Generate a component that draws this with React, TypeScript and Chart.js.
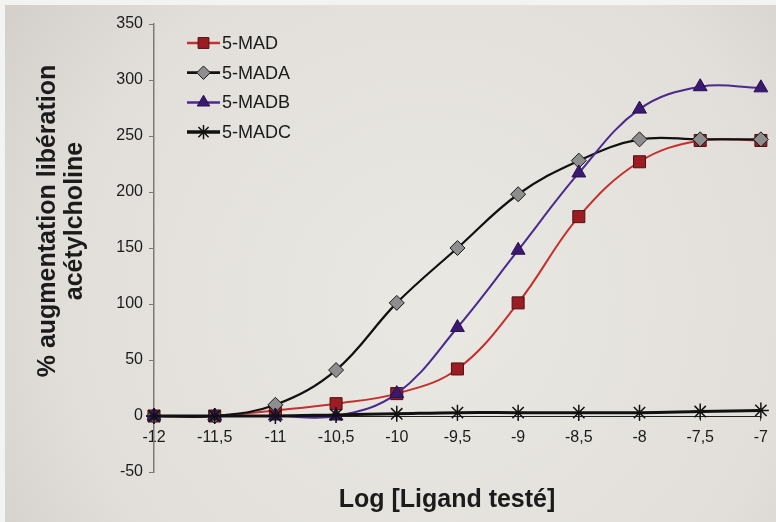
import React, { useEffect, useRef } from 'react';
import { Chart, registerables } from 'chart.js';

Chart.register(...registerables);

const xValues = [-12, -11.5, -11, -10.5, -10, -9.5, -9, -8.5, -8, -7.5, -7];
const madValues = [0, 0, 5, 11, 20, 42, 101, 178, 227, 246, 246];
const madaValues = [0, 0, 10, 41, 101, 150, 198, 228, 247, 247, 247];
const madbValues = [0, 0, 0, 0, 20, 79, 148, 217, 274, 294, 293];
const madcValues = [0, 0, 0, 1, 2, 3, 3, 3, 3, 4, 5];
const seriesNames = ['5-MAD', '5-MADA', '5-MADB', '5-MADC'];
const yTitle = ['% augmentation libération', 'acétylcholine'];
const xTitle = 'Log [Ligand testé]';
const yTicks = { min: -50, max: 350, step: 50 };
const xTicks = { min: -12, max: -7, step: 0.5 };

const FONT = "'Liberation Sans', Arial, sans-serif";
const TEXT = '#1b1b1b';

const styles = [
  { line: '#c4302e', fill: '#9c1c24', stroke: '#4e1014', point: 'rect', radius: 8.5, width: 2, order: 3 },
  { line: '#111111', fill: '#8e8e8e', stroke: '#1a1a1a', point: 'rectRot', radius: 7.5, width: 2.2, order: 2 },
  { line: '#4a2a8c', fill: '#3a1a70', stroke: '#2a1050', point: 'triangle', radius: 8, width: 2, order: 1 },
  { line: '#111111', fill: '#111111', stroke: '#111111', point: 'star', radius: 8, width: 3, order: 0 },
];

function pts(vals: number[]) {
  return xValues.map((x, i) => ({ x, y: vals[i] }));
}

function drawMarker(ctx: CanvasRenderingContext2D, kind: string, x: number, y: number, r: number, fill: string, stroke: string) {
  ctx.save();
  ctx.fillStyle = fill;
  ctx.strokeStyle = stroke;
  ctx.lineWidth = 1;
  ctx.beginPath();
  if (kind === 'rect') {
    const s = r * Math.SQRT1_2;
    ctx.rect(x - s, y - s, 2 * s, 2 * s);
    ctx.fill();
    ctx.stroke();
  } else if (kind === 'rectRot') {
    ctx.moveTo(x, y - r);
    ctx.lineTo(x + r, y);
    ctx.lineTo(x, y + r);
    ctx.lineTo(x - r, y);
    ctx.closePath();
    ctx.fill();
    ctx.stroke();
  } else if (kind === 'triangle') {
    ctx.moveTo(x, y - r);
    ctx.lineTo(x + r * 0.866, y + r * 0.5);
    ctx.lineTo(x - r * 0.866, y + r * 0.5);
    ctx.closePath();
    ctx.fill();
    ctx.stroke();
  } else {
    ctx.lineWidth = 1.5;
    for (let k = 0; k < 4; k++) {
      const a = (k * Math.PI) / 4;
      ctx.moveTo(x - Math.cos(a) * r, y - Math.sin(a) * r);
      ctx.lineTo(x + Math.cos(a) * r, y + Math.sin(a) * r);
    }
    ctx.stroke();
  }
  ctx.restore();
}

const backgroundPlugin = {
  id: 'photoBackground',
  beforeDraw(chart: any) {
    const { ctx, width, height } = chart;
    ctx.save();
    ctx.fillStyle = '#f3f3f2';
    ctx.fillRect(0, 0, width, height);
    const g = ctx.createRadialGradient(430, 300, 40, 430, 300, 580);
    g.addColorStop(0, '#e9e7e2');
    g.addColorStop(0.6, '#e2dfda');
    g.addColorStop(1, '#cdc8c4');
    ctx.fillStyle = g;
    ctx.fillRect(5, 5, width - 5, height - 5);
    ctx.restore();
  },
};

const titlesPlugin = {
  id: 'axisTitles',
  afterDraw(chart: any) {
    const { ctx, chartArea } = chart;
    ctx.save();
    ctx.fillStyle = TEXT;
    ctx.font = `bold 25px ${FONT}`;
    ctx.textAlign = 'center';
    ctx.textBaseline = 'middle';
    // x title
    ctx.fillText(xTitle, chartArea.left + 293, chartArea.bottom + 28);
    // y title (rotated)
    const cy = chartArea.top + 197;
    const xs = [48, 75];
    yTitle.forEach((line, i) => {
      ctx.save();
      ctx.translate(xs[i], cy);
      ctx.rotate(-Math.PI / 2);
      ctx.fillText(line, 0, 0);
      ctx.restore();
    });
    ctx.restore();
  },
};

const legendPlugin = {
  id: 'insideLegend',
  afterDraw(chart: any) {
    const { ctx, chartArea } = chart;
    ctx.save();
    seriesNames.forEach((name, i) => {
      const st = styles[i];
      const y = chartArea.top + 19 + i * 29.7;
      const x0 = chartArea.left + 33;
      const x1 = chartArea.left + 66;
      ctx.strokeStyle = st.line;
      ctx.lineWidth = st.width + 0.5;
      ctx.beginPath();
      ctx.moveTo(x0, y);
      ctx.lineTo(x1, y);
      ctx.stroke();
      drawMarker(ctx, st.point, (x0 + x1) / 2, y, st.radius * 0.9, st.fill, st.stroke);
      ctx.fillStyle = TEXT;
      ctx.font = `18px ${FONT}`;
      ctx.textBaseline = 'middle';
      ctx.textAlign = 'left';
      ctx.fillText(name, x1 + 2, y + 1);
    });
    ctx.restore();
  },
};

export default function App() {
  const ref = useRef<HTMLCanvasElement | null>(null);

  useEffect(() => {
    document.body.style.margin = '0';
    const canvas = ref.current;
    if (!canvas) return;
    const seriesValues = [madValues, madaValues, madbValues, madcValues];
    const chart = new Chart(canvas, {
      type: 'line',
      data: {
        datasets: seriesNames.map((name, i) => ({
          label: name,
          data: pts(seriesValues[i]),
          borderColor: styles[i].line,
          backgroundColor: styles[i].fill,
          pointBorderColor: styles[i].stroke,
          pointBackgroundColor: styles[i].fill,
          pointStyle: styles[i].point as any,
          pointRadius: styles[i].radius,
          pointBorderWidth: styles[i].point === 'star' ? 1.5 : 1,
          borderWidth: styles[i].width,
          tension: 0.38,
          fill: false,
          clip: false,
          order: styles[i].order,
        })),
      },
      options: {
        animation: false,
        responsive: false,
        maintainAspectRatio: false,
        layout: { padding: { left: 0, top: 24, right: 11, bottom: 50 } },
        plugins: {
          legend: { display: false },
          tooltip: { enabled: false },
        },
        scales: {
          x: {
            type: 'linear',
            position: { y: 0 } as any,
            min: xTicks.min,
            max: xTicks.max,
            ticks: {
              stepSize: xTicks.step,
              autoSkip: false,
              maxRotation: 0,
              padding: 8,
              color: TEXT,
              font: { family: FONT, size: 16 },
              callback: (v: any) => String(v).replace('.', ','),
            },
            grid: { display: true, drawOnChartArea: false, drawTicks: true, tickLength: 4, color: '#555' },
            border: { display: true, color: '#222', width: 1 },
          },
          y: {
            type: 'linear',
            min: yTicks.min,
            max: yTicks.max,
            ticks: {
              stepSize: yTicks.step,
              padding: 6,
              color: TEXT,
              font: { family: FONT, size: 16 },
            },
            grid: { display: true, drawOnChartArea: false, drawTicks: true, tickLength: 5, color: '#777' },
            border: { display: true, color: '#7a7a7a', width: 1.5 },
            title: { display: false },
            afterFit: (s: any) => {
              s.width = 154;
            },
          },
        },
      } as any,
      plugins: [backgroundPlugin, legendPlugin, titlesPlugin],
    });
    return () => chart.destroy();
  }, []);

  return (
    <div style={{ width: 776, height: 522 }}>
      <canvas ref={ref} width={776} height={522} style={{ display: 'block', width: 776, height: 522 }} />
    </div>
  );
}
